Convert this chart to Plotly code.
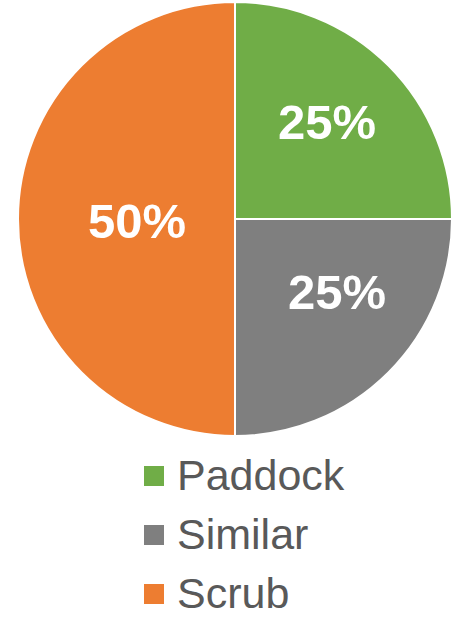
import plotly.graph_objects as go

categories = ["Paddock", "Similar", "Scrub"]
shares = [25, 25, 50]
colors = ["#70AD47", "#7F7F7F", "#ED7D31"]

W, H = 452, 617
FONT = "Liberation Sans, Arial, sans-serif"

# Pie placement in pixels (centre and radius)
CX, CY, R = 235, 219, 217

fig = go.Figure(
    go.Pie(
        labels=categories,
        values=shares,
        sort=False,
        direction="clockwise",
        rotation=0,
        marker=dict(colors=colors, line=dict(color="white", width=2)),
        textinfo="none",
        domain=dict(x=[(CX - R) / W, (CX + R) / W],
                    y=[1 - (CY + R) / H, 1 - (CY - R) / H]),
        showlegend=False,
        hoverinfo="label+percent",
    )
)

# Percentage labels, placed at a fixed pixel spot inside each slice
label_spots = {"Paddock": (327, 122), "Similar": (337, 292), "Scrub": (137, 221)}
total = sum(shares)
for name, v in zip(categories, shares):
    px, py = label_spots[name]
    fig.add_annotation(
        x=px / W, y=1 - py / H, xref="paper", yref="paper",
        xanchor="center", yanchor="middle", showarrow=False,
        text=f"{round(100 * v / total)}%",
        font=dict(family=FONT, size=49, color="white", weight="bold"),
    )

# Legend drawn as square swatches with labels below the pie
sw = 20
for i, (name, col) in enumerate(zip(categories, colors)):
    cy = 476 + i * 59
    fig.add_shape(
        type="rect", xref="paper", yref="paper",
        x0=144 / W, x1=(144 + sw) / W,
        y0=1 - (cy + sw / 2) / H, y1=1 - (cy - sw / 2) / H,
        fillcolor=col, line=dict(width=0),
    )
    fig.add_annotation(
        x=175 / W, y=1 - (cy - 1) / H, xref="paper", yref="paper",
        xanchor="left", yanchor="middle", showarrow=False,
        text=name, font=dict(family=FONT, size=43, color="#595959"),
    )

fig.update_layout(
    width=W, height=H,
    margin=dict(l=0, r=0, t=0, b=0),
    paper_bgcolor="white", plot_bgcolor="white",
)

fig.write_html("out.html")
